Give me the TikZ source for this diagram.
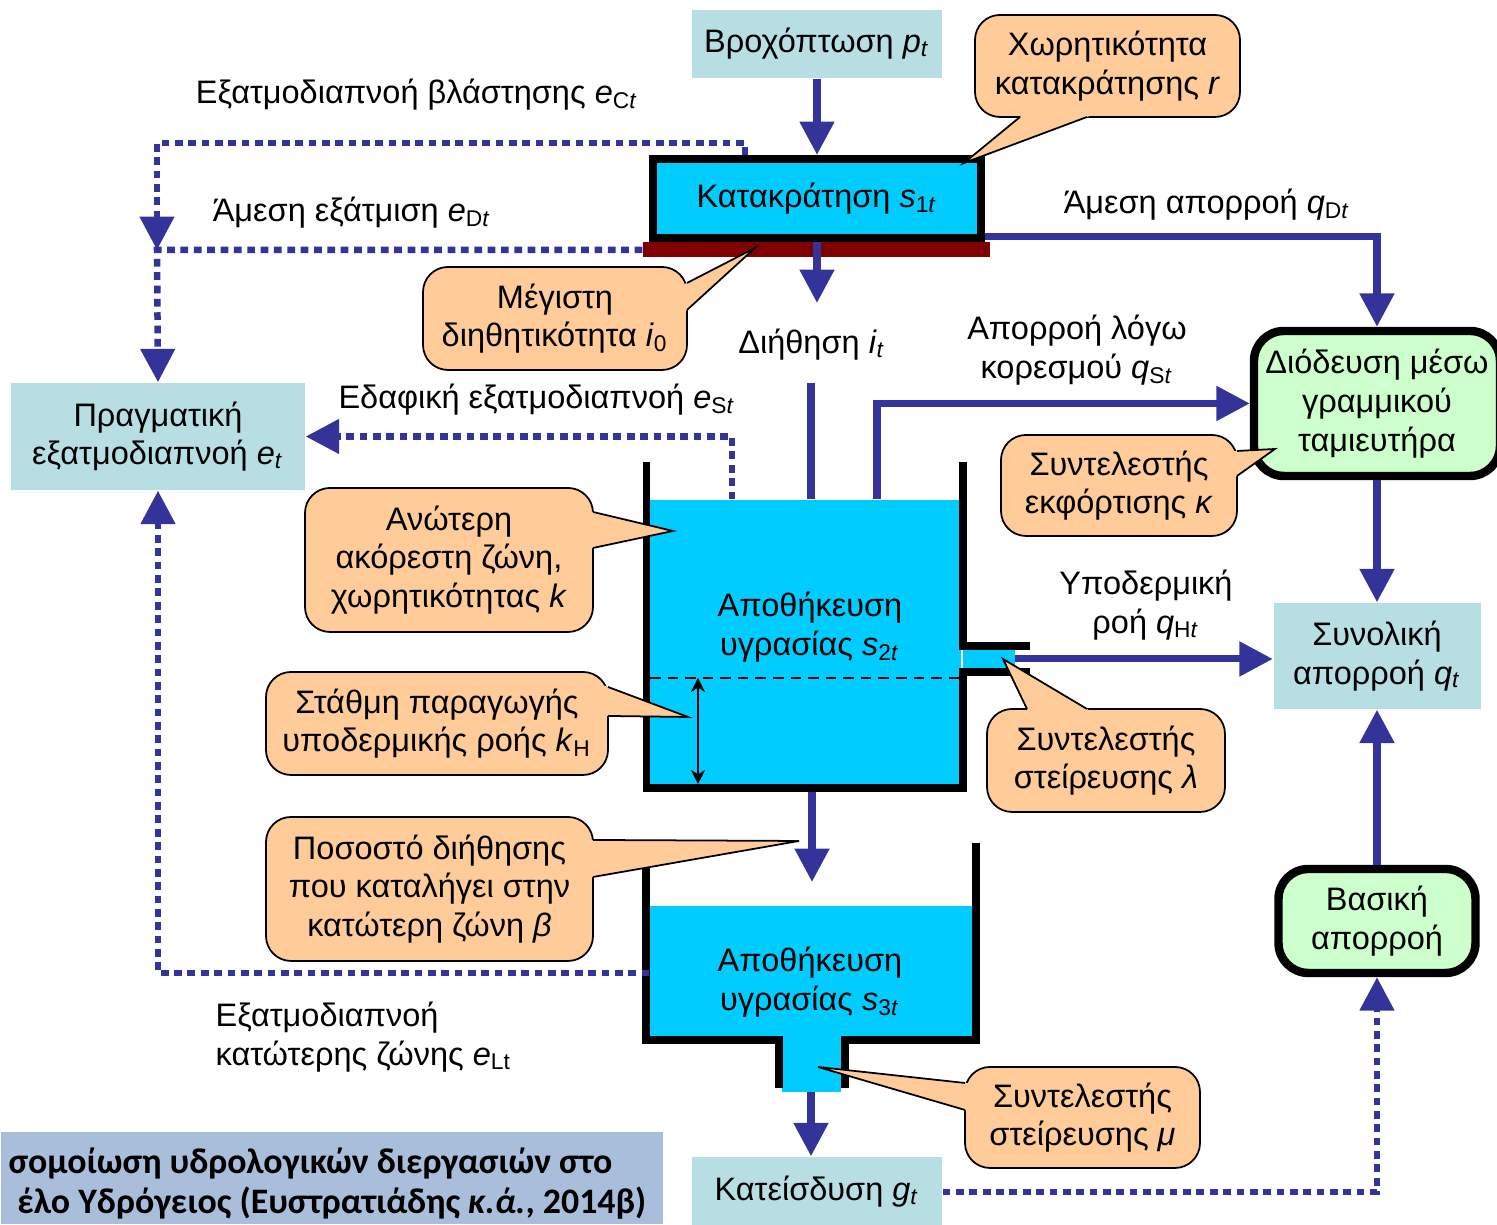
\documentclass[tikz,border=0pt]{standalone}
\usepackage{fontspec}
\setmainfont{Liberation Sans}
\newfontfamily\bannerfont{Carlito}
\usepackage{tikz}
\usetikzlibrary{arrows.meta, positioning, calc}
\definecolor{flowblue}{HTML}{333399}
\definecolor{paleteal}{HTML}{B7DEE2}
\definecolor{aqua}{HTML}{00CCFF}
\definecolor{soilred}{HTML}{800000}
\definecolor{mint}{HTML}{CCFFCC}
\definecolor{peach}{HTML}{FFCC99}
\definecolor{titleblue}{HTML}{A9BEDB}
\newcommand{\vsym}[2]{\textit{#1}\textsubscript{#2\textit{t}}}
% pointer of a speech bubble: base, tip, base
\newcommand{\beak}[3]{%
  \fill[peach] ($#1!-2pt!#2$) -- #2 -- ($#3!-2pt!#2$) -- cycle;
  \draw[line width=0.5pt] #1 -- #2 -- #3;}

\begin{document}
\begin{tikzpicture}[font=\fontsize{9.25}{11}\selectfont, >={Triangle[width=9.5pt,length=9.5pt]},
    flow/.style={->, flowblue, line width=2pt},
    evap/.style={->, flowblue, line width=1.85pt, dash pattern=on 2.2pt off 1.6pt},
    pale/.style={fill=paleteal, align=center, inner sep=0pt},
    store/.style={fill=aqua, draw=black, line width=2.3pt},
    route/.style={fill=mint, draw=black, line width=2.4pt, rounded corners=3mm, align=center, inner sep=0pt},
    bubble/.style={fill=peach, draw=black, line width=0.5pt, rounded corners=2.5mm, align=center, inner sep=0pt},
    wall/.style={line width=2.2pt},
    lbl/.style={align=center, inner sep=0pt}]
  \useasboundingbox (0,0) rectangle (14.97,12.25);

  % Titulek
  \node[fill=titleblue, minimum width=6.62cm, minimum height=0.92cm, inner sep=0pt, anchor=south west] (banner) at (0,0) {};
  \node[anchor=base east, inner sep=0pt, font=\fontsize{10.2}{12}\selectfont\bannerfont\bfseries] (banner1) at (6.13,0.51)
    {σομοίωση υδρολογικών διεργασιών στο};
  \node[anchor=base east, inner sep=0pt, font=\fontsize{10.2}{12}\selectfont\bannerfont\bfseries] (banner2) at (6.47,0.11)
    {έλο Υδρόγειος (Ευστρατιάδης \textit{κ.ά.}, 2014β)};

  % Boxy
  \node[pale, minimum width=2.5cm, minimum height=0.68cm] (rain) at (8.17,11.81) {Βροχόπτωση \vsym{p}{}};
  \node[store, minimum width=3.28cm, minimum height=0.79cm] (ret) at (8.17,10.265) {Κατακράτηση \vsym{s}{1}};
  \node[fill=soilred, minimum width=3.47cm, minimum height=0.15cm, inner sep=0pt] (bar) at (8.165,9.75) {};
  \node[pale, minimum width=2.94cm, minimum height=1.07cm] (et) at (1.58,7.885) {Πραγματική\\εξατμοδιαπνοή \vsym{e}{}};
  \node[route, minimum width=2.46cm, minimum height=1.45cm] (rout) at (13.77,8.215) {Διόδευση μέσω\\γραμμικού\\ταμιευτήρα};
  \node[pale, minimum width=2.07cm, minimum height=1.06cm] (total) at (13.77,5.69) {Συνολική\\απορροή \vsym{q}{}};
  \node[route, minimum width=1.97cm, minimum height=1.04cm] (base) at (13.77,3.04) {Βασική\\απορροή};
  \node[pale, minimum width=2.5cm, minimum height=0.7cm] (perc) at (8.17,0.33) {Κατείσδυση \vsym{g}{}};

  % Voda v nadrzich
  \node[fill=aqua, minimum width=3.13cm, minimum height=2.88cm, inner sep=0pt] (upper) at (8.045,5.81) {};
  \fill[aqua] (9.63,5.76) rectangle (10.15,5.56);
  \node[fill=aqua, minimum width=3.22cm, minimum height=1.34cm, inner sep=0pt] (lower) at (8.11,2.52) {};
  \fill[aqua] (7.82,1.87) rectangle (8.41,1.33);

  % Steny
  \draw[wall] (6.465,7.63) -- (6.465,4.37) -- (9.63,4.37) -- (9.63,5.53) -- (10.30,5.53);
  \draw[wall] (9.63,7.63) -- (9.63,5.79) -- (10.30,5.79);
  \draw[wall] (6.46,3.82) -- (6.46,1.85) -- (7.79,1.85) -- (7.79,1.37);
  \draw[wall] (8.45,1.37) -- (8.45,1.85) -- (9.76,1.85) -- (9.76,3.82);
  \draw[line width=0.6pt, dash pattern=on 3pt off 2pt] (6.50,5.47) -- (9.59,5.47);
  \draw[{Stealth[length=4pt,width=4pt]}-{Stealth[length=4pt,width=4pt]}, line width=0.7pt] (6.98,5.47) -- (6.98,4.41);

  % Toky
  \draw[flow] (rain) -- (ret);
  \coordinate (infil) at (8.17,9.22);
  \draw[flow] (ret.south) -- (infil);
  \coordinate (infilin) at (8.11,8.42);
  \draw[flow, -] (infilin) -- (infilin |- upper.north);
  \draw[flow] ([yshift=1.5pt]ret.south east) -| (rout.north);
  \draw[flow] ([xshift=0.725cm]upper.north) |- (rout.west);
  \coordinate (pipeout) at (10.15,5.66);
  \draw[flow] (pipeout) -- (pipeout -| total.west);
  \draw[flow] (rout) -- (total);
  \draw[flow] (base) -- (total);
  \coordinate (upbot) at (8.12,4.33);
  \coordinate (lowin) at (8.12,3.43);
  \draw[flow] (upbot) -- (lowin);
  \coordinate (outlet) at (8.11,1.33);
  \draw[flow] (outlet) -- (outlet |- perc.north);

  % Vypar
  \coordinate (junc) at (1.57,9.75);
  \draw[evap] ([xshift=-0.72cm]ret.north) -- ++(0,0.12) -| (junc);
  \draw[evap] (bar.west) -- (junc) -- (et.north);
  \draw[evap] ([xshift=-0.725cm]upper.north) |- (et.east);
  \draw[evap] (lower.west) -| (et.south);
  \draw[evap] (perc.east) -| (base.south);

  % Popisky
  \node[lbl] (vegtxt) at (4.17,11.30) {Εξατμοδιαπνοή βλάστησης \vsym{e}{C}};
  \node[lbl] (evaptxt) at (3.52,10.12) {Άμεση εξάτμιση \vsym{e}{D}};
  \node[lbl] (directtxt) at (12.07,10.20) {Άμεση απορροή \vsym{q}{D}};
  \node[lbl] (infiltxt) at (8.12,8.80) {Διήθηση \vsym{i}{}};
  \node[lbl] (sattxt) at (10.77,8.75) {Απορροή λόγω\\κορεσμού \vsym{q}{S}};
  \node[lbl] (soiltxt) at (5.37,8.25) {Εδαφική εξατμοδιαπνοή \vsym{e}{S}};
  \node[lbl] (subtxt) at (11.46,6.20) {Υποδερμική\\ροή \vsym{q}{H}};
  \node[lbl] (uptxt) at (8.10,5.98) {Αποθήκευση\\υγρασίας \vsym{s}{2}};
  \node[lbl] (lowertxt) at (8.10,2.43) {Αποθήκευση\\υγρασίας \vsym{s}{3}};
  \node[lbl, align=left, anchor=west] (lowtxt) at (2.15,1.88) {Εξατμοδιαπνοή\\κατώτερης ζώνης \textit{e}\textsubscript{Lt}};

  % Bubliny
  \node[bubble, minimum width=2.65cm, minimum height=1.02cm] (capr) at (11.075,11.59) {Χωρητικότητα\\κατακράτησης \textit{r}};
  \beak{(10.20,11.08)}{(9.64,10.62)}{(10.87,11.08)}
  \node[bubble, minimum width=2.64cm, minimum height=1.03cm] (maxi) at (5.55,9.065) {Μέγιστη\\διηθητικότητα \textit{i}\textsubscript{0}};
  \beak{(6.87,9.42)}{(7.55,9.77)}{(6.87,9.15)}
  \node[bubble, minimum width=2.88cm, minimum height=1.44cm] (capk) at (4.49,6.65) {Ανώτερη\\ακόρεστη ζώνη,\\χωρητικότητας \textit{k}};
  \beak{(5.93,7.13)}{(6.73,6.94)}{(5.93,6.77)}
  \node[bubble, minimum width=3.42cm, minimum height=1.03cm] (levkh) at (4.37,5.015) {Στάθμη παραγωγής\\υποδερμικής ροής \textit{k}\textsubscript{H}};
  \beak{(6.08,5.38)}{(6.88,5.08)}{(6.08,5.09)}
  \node[bubble, minimum width=3.27cm, minimum height=1.44cm] (frac) at (4.295,3.36) {Ποσοστό διήθησης\\που καταλήγει στην\\κατώτερη ζώνη \textit{β}};
  \beak{(5.93,3.85)}{(7.99,3.84)}{(5.93,3.48)}
  \node[bubble, minimum width=2.36cm, minimum height=1.01cm] (kappa) at (11.19,7.395) {Συντελεστής\\εκφόρτισης \textit{κ}};
  \beak{(12.37,7.74)}{(12.75,7.76)}{(12.37,7.49)}
  \node[bubble, minimum width=2.38cm, minimum height=1.03cm] (lambda) at (11.06,4.645) {Συντελεστής\\στείρευσης \textit{λ}};
  \beak{(10.27,5.16)}{(10.03,5.66)}{(10.87,5.16)}
  \node[bubble, minimum width=2.35cm, minimum height=1.01cm] (mu) at (10.825,1.075) {Συντελεστής\\στείρευσης \textit{μ}};
  \beak{(9.65,1.42)}{(8.18,1.58)}{(9.65,1.15)}
\end{tikzpicture}
\end{document}
